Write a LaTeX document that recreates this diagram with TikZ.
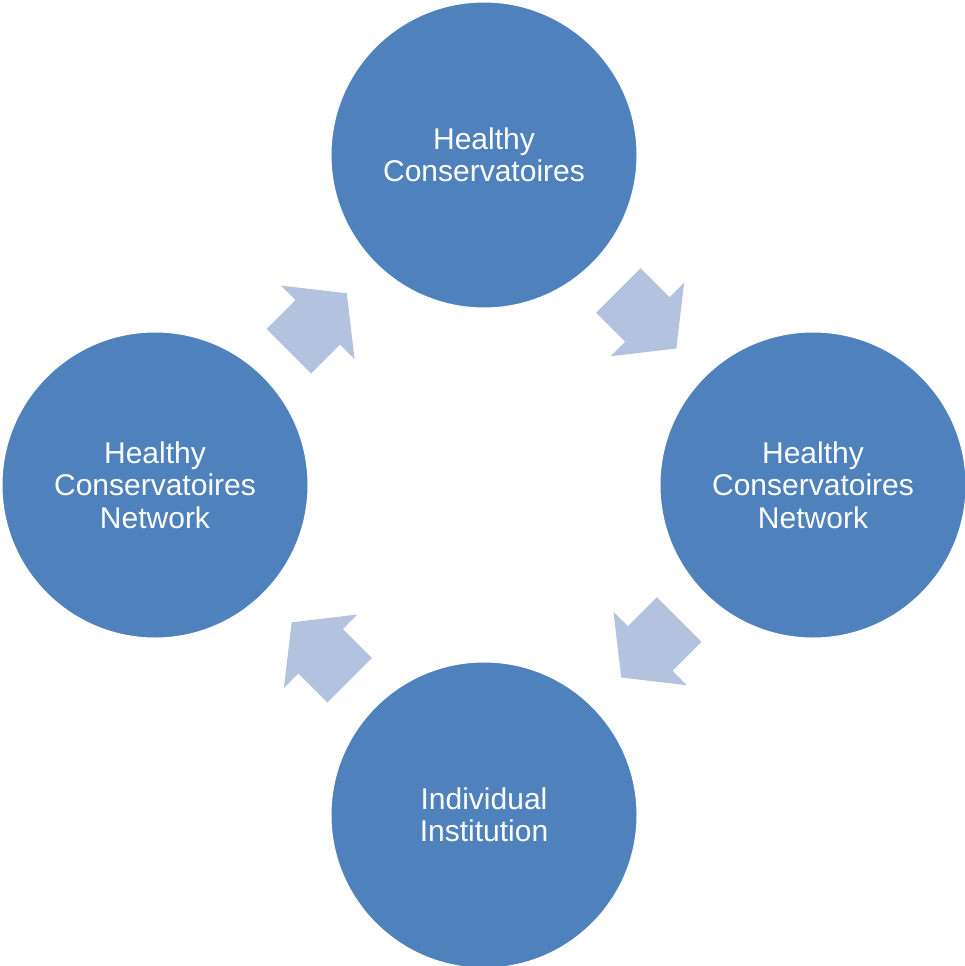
\documentclass[tikz,border=0pt]{standalone}
\usepackage{fontspec}
\setmainfont{Liberation Sans}
\definecolor{circblue}{HTML}{4F81BD}
\definecolor{arrblue}{HTML}{B3C2DE}
\begin{document}
\begin{tikzpicture}[x=1pt,y=-1pt,
  bubble/.style={circle,fill=circblue,draw=white,line width=1pt,minimum size=306pt,inner sep=0pt,
    text=white,align=center,font=\fontsize{30}{32.5}\selectfont},
  blockarrow/.pic={\fill[arrblue] (0,-31.5) -- (41,-31.5) -- (41,-52) -- (82,0) -- (41,52) -- (41,31.5) -- (0,31.5) -- cycle;}]
\useasboundingbox (0,0) rectangle (965,966);
\node[bubble] (top) at (484,155) {Healthy\\Conservatoires};
\node[bubble] (right) at (813,485) {Healthy\\Conservatoires\\Network};
\node[bubble] (bottom) at (484,815) {Individual\\Institution};
\node[bubble] (left) at (155,485) {Healthy\\Conservatoires\\Network};
\coordinate (a1) at (618.35,290.5);
\coordinate (a2) at (679.2,619.5);
\coordinate (a3) at (349.65,680.3);
\coordinate (a4) at (288.8,351.3);
\pic[rotate=-45] at (a1) {blockarrow};
\pic[rotate=-135] at (a2) {blockarrow};
\pic[rotate=135] at (a3) {blockarrow};
\pic[rotate=45] at (a4) {blockarrow};
\end{tikzpicture}
\end{document}
